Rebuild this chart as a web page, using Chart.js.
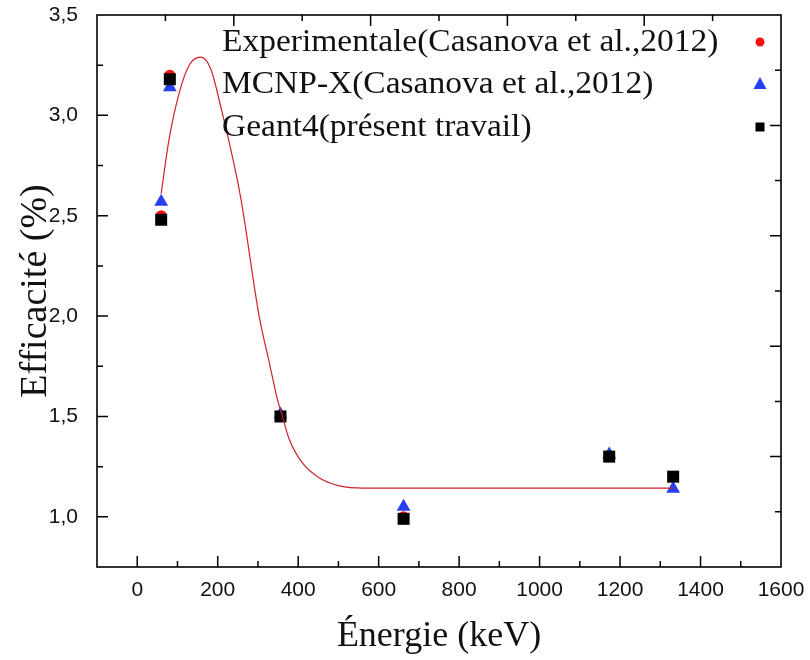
<!DOCTYPE html>
<html>
<head>
<meta charset="utf-8">
<script src="https://cdn.jsdelivr.net/npm/chart.js@4/dist/chart.umd.min.js"></script>
<style>
  html, body { margin: 0; padding: 0; background: #fff; }
  #wrap { width: 810px; height: 660px; }
</style>
</head>
<body>
<div id="wrap"><canvas id="effChart" width="810" height="660"></canvas></div>
<script>
// energies (keV) and efficiencies (%)
const energies = [59.5, 81, 356, 662, 1173, 1332];
const expVals = [2.50, 3.20, 1.50, 1.00, 1.30, 1.20];
const mcnpVals = [2.57, 3.14, 1.51, 1.05, 1.31, 1.14];
const geantVals = [2.48, 3.18, 1.50, 0.99, 1.30, 1.20];

// red fitted curve
const fitX = [59.5, 79, 104, 129, 158, 183, 208, 237, 258, 303, 328, 349, 358, 378, 411, 453, 503, 561, 700, 900, 1100, 1332];
const fitY = [2.61, 2.88, 3.11, 3.25, 3.29, 3.23, 3.04, 2.79, 2.58, 2.00, 1.77, 1.58, 1.52, 1.385, 1.267, 1.193, 1.154, 1.143, 1.143, 1.143, 1.143, 1.143];

const xTicks = [0, 200, 400, 600, 800, 1000, 1200, 1400, 1600];
const yTicks = [1.0, 1.5, 2.0, 2.5, 3.0, 3.5];

const legendLabels = [
  "Experimentale(Casanova et al.,2012)",
  "MCNP-X(Casanova et al.,2012)",
  "Geant4(présent travail)"
];

const RED = "#ff1010";
const BLUE = "#2440f0";
const BLACK = "#000000";

function pts(xs, ys) {
  return xs.map((x, i) => ({ x: x, y: ys[i] }));
}

// frame + inward ticks on all four sides
const frameTicks = {
  id: "frameTicks",
  afterDraw(chart) {
    const { ctx, chartArea: a, scales } = chart;
    ctx.save();
    ctx.strokeStyle = "#000";
    ctx.lineWidth = 1.6;
    ctx.strokeRect(a.left, a.top, a.right - a.left, a.bottom - a.top);
    ctx.lineWidth = 1.5;
    ctx.beginPath();
    // bottom
    for (let v = 0; v < 1600; v += 100) {
      const px = scales.x.getPixelForValue(v);
      const len = v % 200 === 0 ? 11 : 6;
      ctx.moveTo(px, a.bottom);
      ctx.lineTo(px, a.bottom - len);
    }
    // left
    for (let v = 1.0; v < 3.5; v += 0.25) {
      const py = scales.y.getPixelForValue(v);
      const len = Math.abs((v * 2) - Math.round(v * 2)) < 1e-6 ? 11 : 6;
      ctx.moveTo(a.left, py);
      ctx.lineTo(a.left + len, py);
    }
    // top and right: ten divisions, long every second one
    for (let i = 1; i < 10; i++) {
      const px = scales.x2.getPixelForValue(i);
      const len = i % 2 === 0 ? 11 : 6;
      ctx.moveTo(px, a.top);
      ctx.lineTo(px, a.top + len);
      const py = scales.y2.getPixelForValue(i);
      ctx.moveTo(a.right, py);
      ctx.lineTo(a.right - len, py);
    }
    ctx.stroke();
    ctx.restore();
  }
};

// legend: text first, marker on the right
const textLegend = {
  id: "textLegend",
  afterDraw(chart) {
    const { ctx } = chart;
    const rows = [42, 84, 127];
    ctx.save();
    ctx.fillStyle = "#111";
    ctx.font = "31px 'Liberation Serif', 'Times New Roman', serif";
    ctx.textBaseline = "middle";
    ctx.textAlign = "left";
    const sx = 1.08;
    legendLabels.forEach((t, i) => {
      ctx.save();
      ctx.scale(sx, 1);
      ctx.fillText(t, 222 / sx, rows[i] + 1);
      ctx.restore();
    });
    const mx = 760;
    ctx.fillStyle = RED;
    ctx.beginPath();
    ctx.arc(mx, rows[0], 4.5, 0, Math.PI * 2);
    ctx.fill();
    ctx.fillStyle = BLUE;
    ctx.beginPath();
    ctx.moveTo(mx, rows[1] - 7);
    ctx.lineTo(mx + 6.5, rows[1] + 5);
    ctx.lineTo(mx - 6.5, rows[1] + 5);
    ctx.closePath();
    ctx.fill();
    ctx.fillStyle = BLACK;
    ctx.fillRect(mx - 4.5, rows[2] - 4.5, 9, 9);
    ctx.restore();
  }
};

const ctx = document.getElementById("effChart").getContext("2d");

new Chart(ctx, {
  type: "scatter",
  data: {
    datasets: [
      {
        label: "fit",
        data: pts(fitX, fitY),
        showLine: true,
        borderColor: "#d0202c",
        borderWidth: 1.2,
        pointRadius: 0,
        cubicInterpolationMode: "monotone",
        order: 0
      },
      {
        label: legendLabels[2],
        data: pts(energies, geantVals),
        pointStyle: "rect",
        pointRadius: 8.5,
        backgroundColor: BLACK,
        borderColor: BLACK,
        borderWidth: 0,
        order: 1
      },
      {
        label: legendLabels[1],
        data: pts(energies, mcnpVals),
        pointStyle: "triangle",
        pointRadius: 8,
        backgroundColor: BLUE,
        borderColor: BLUE,
        borderWidth: 0,
        order: 2
      },
      {
        label: legendLabels[0],
        data: pts(energies, expVals),
        pointStyle: "circle",
        pointRadius: 5.5,
        backgroundColor: RED,
        borderColor: RED,
        borderWidth: 0,
        order: 3
      }
    ]
  },
  options: {
    responsive: false,
    animation: false,
    devicePixelRatio: 1,
    layout: { padding: { top: 15, right: 29, left: 0, bottom: 0 } },
    plugins: {
      legend: { display: false },
      tooltip: { enabled: false }
    },
    scales: {
      x: {
        type: "linear",
        position: "bottom",
        min: -100,
        max: 1600,
        afterBuildTicks: (s) => { s.ticks = xTicks.map(v => ({ value: v })); },
        afterFit: (s) => { s.height = 93; s.paddingLeft = 0; s.paddingRight = 0; },
        grid: { display: false, drawTicks: false },
        border: { display: false },
        ticks: {
          padding: 11,
          color: "#111",
          font: { family: "'Liberation Sans', Arial, sans-serif", size: 21 },
          maxRotation: 0,
          callback: (v) => String(v)
        },
        title: {
          display: true,
          text: "Énergie (keV)",
          color: "#111",
          font: { family: "'Liberation Serif', 'Times New Roman', serif", size: 36 },
          padding: { top: 0, bottom: 2 }
        }
      },
      y: {
        type: "linear",
        position: "left",
        min: 0.75,
        max: 3.5,
        afterBuildTicks: (s) => { s.ticks = yTicks.map(v => ({ value: v })); },
        afterFit: (s) => { s.width = 97; s.paddingTop = 0; s.paddingBottom = 0; },
        grid: { display: false, drawTicks: false },
        border: { display: false },
        ticks: {
          padding: 19,
          color: "#111",
          font: { family: "'Liberation Sans', Arial, sans-serif", size: 21 },
          callback: (v) => v.toFixed(1).replace(".", ",")
        },
        title: {
          display: true,
          text: "Efficacité (%)",
          color: "#111",
          font: { family: "'Liberation Serif', 'Times New Roman', serif", size: 38 },
          padding: { top: 13, bottom: 0 }
        }
      },
      x2: {
        type: "linear",
        position: "top",
        min: 0,
        max: 10,
        display: false
      },
      y2: {
        type: "linear",
        position: "right",
        min: 0,
        max: 10,
        display: false
      }
    }
  },
  plugins: [frameTicks, textLegend]
});
</script>
</body>
</html>
